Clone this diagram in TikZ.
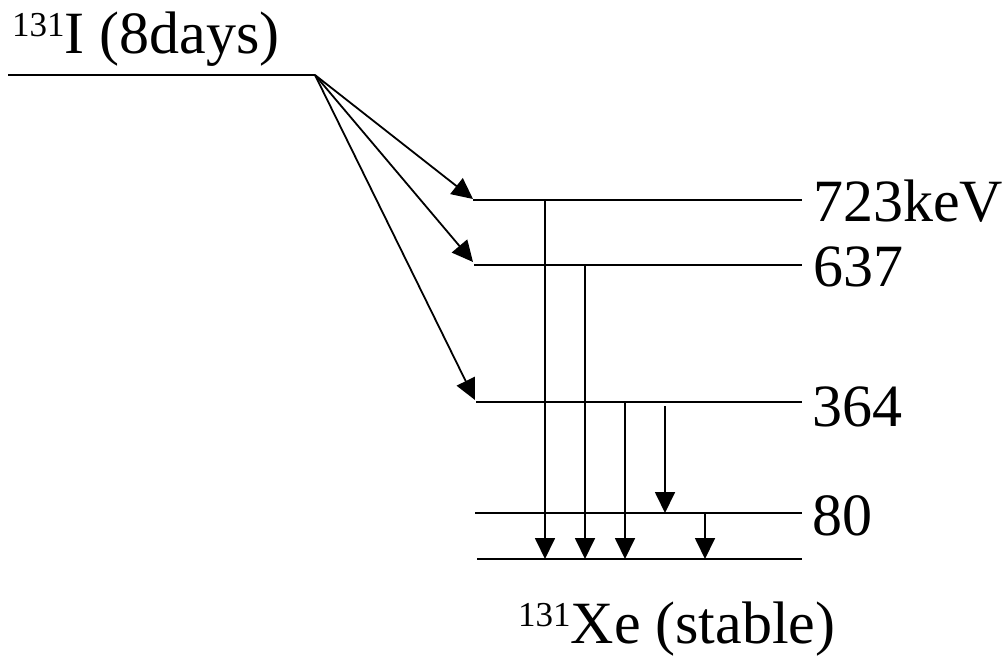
\documentclass[tikz,border=0pt]{standalone}
\usepackage{fontspec}
\setmainfont{Liberation Serif}
\usetikzlibrary{arrows.meta}
\newcommand{\iso}[2]{\raisebox{16.5pt}{\fontsize{35}{37}\selectfont #1}#2}
\begin{document}
\begin{tikzpicture}[x=1pt,y=-1pt,
  level/.style={line width=1.8pt},
  decay/.style={line width=1.8pt,-{Triangle[length=21pt,width=20pt]}},
  lbl/.style={anchor=base west,inner sep=0pt,font=\fontsize{60}{66}\selectfont}]
  \useasboundingbox (0,0) rectangle (1002,656);

  % parent level
  \coordinate (I0) at (8,75);
  \coordinate (I1) at (315,75);
  \draw[level] (I0) -- (I1);
  \node[lbl] (ilabel) at (12,53) {\iso{131}{I (8days)}};

  % excited levels of the daughter
  \coordinate (L723a) at (473,200); \coordinate (L723b) at (802,200);
  \coordinate (L637a) at (474,265); \coordinate (L637b) at (802,265);
  \coordinate (L364a) at (476,402); \coordinate (L364b) at (802,402);
  \coordinate (L80a)  at (475,513); \coordinate (L80b)  at (802,513);
  \coordinate (G0a)   at (477,559); \coordinate (G0b)   at (802,559);
  \draw[level] (L723a) -- (L723b);
  \draw[level] (L637a) -- (L637b);
  \draw[level] (L364a) -- (L364b);
  \draw[level] (L80a) -- (L80b);
  \draw[level] (G0a) -- (G0b);

  \node[lbl] (t723) at (813,221) {723keV};
  \node[lbl] (t637) at (813,286) {637};
  \node[lbl] (t364) at (812,426) {364};
  \node[lbl] (t80)  at (812,535) {80};
  \node[lbl] (txe)  at (518,643) {\iso{131}{Xe (stable)}};

  % beta branches end just above the level lines
  \coordinate (b1) at (473,199);
  \coordinate (b2) at (473,262);
  \coordinate (b3) at (475,400);
  \draw[decay] (I1) -- (b1);
  \draw[decay] (I1) -- (b2);
  \draw[decay] (I1) -- (b3);

  % gamma transitions
  \coordinate (g1s) at (545,200); \coordinate (g1e) at (545,559);
  \coordinate (g2s) at (585,265); \coordinate (g2e) at (585,559);
  \coordinate (g3s) at (625,402); \coordinate (g3e) at (625,559);
  \coordinate (g4s) at (665,406); \coordinate (g4e) at (665,513);
  \coordinate (g5s) at (705,513); \coordinate (g5e) at (705,559);
  \draw[decay] (g1s) -- (g1e);
  \draw[decay] (g2s) -- (g2e);
  \draw[decay] (g3s) -- (g3e);
  \draw[decay] (g4s) -- (g4e);
  \draw[decay] (g5s) -- (g5e);
\end{tikzpicture}
\end{document}
